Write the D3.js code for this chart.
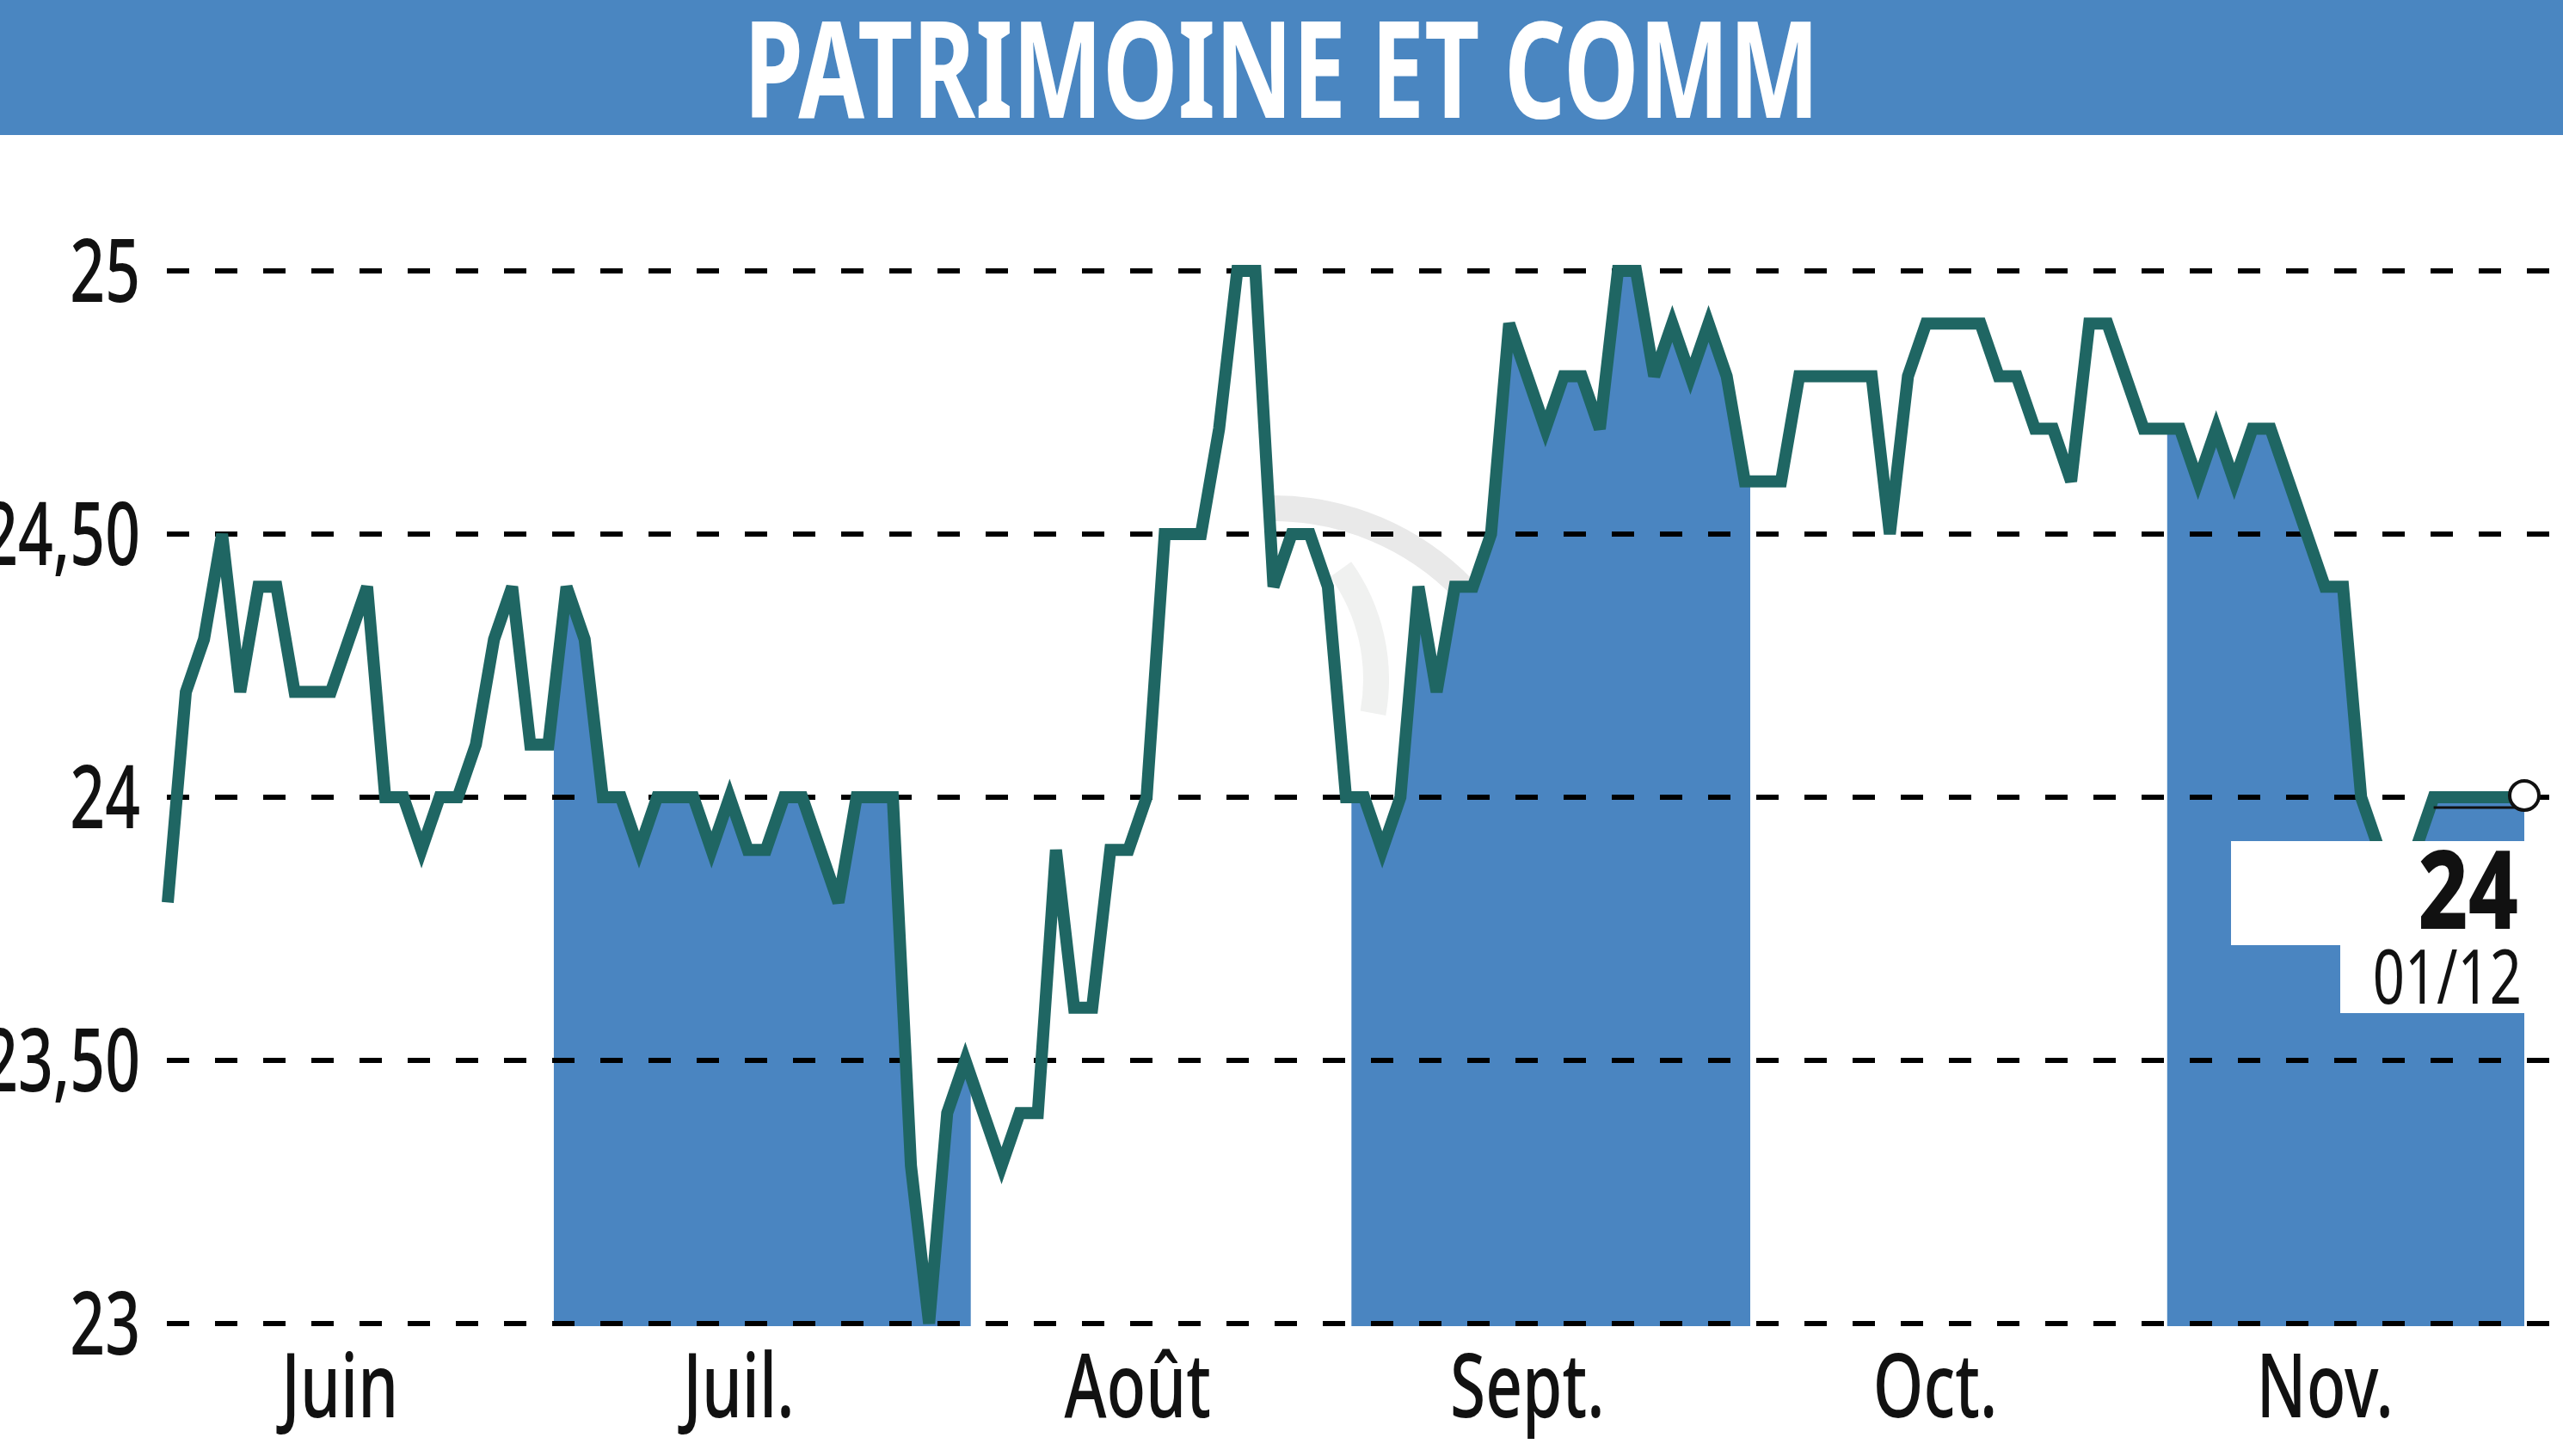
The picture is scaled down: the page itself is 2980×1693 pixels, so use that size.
<!DOCTYPE html>
<html><head><meta charset="utf-8">
<script src="https://cdn.jsdelivr.net/npm/d3@7"></script>
<style>html,body{margin:0;padding:0;background:#fff;overflow:hidden} svg{display:block}</style>
</head><body>
<svg id="chart" width="2980" height="1693"></svg>
<script>
// ---------- data ----------
const title = "PATRIMOINE ET COMM";
const monthLabels = ["Juin", "Juil.", "Août", "Sept.", "Oct.", "Nov.", ""];
const valJuin = [23.8, 24.2, 24.3, 24.5, 24.2, 24.4, 24.4, 24.2, 24.2, 24.2, 24.3, 24.4, 24.0, 24.0, 23.9, 24.0, 24.0, 24.1, 24.3, 24.4, 24.1];
const valJuil = [24.1, 24.4, 24.3, 24.0, 24.0, 23.9, 24.0, 24.0, 24.0, 23.9, 24.0, 23.9, 23.9, 24.0, 24.0, 23.9, 23.8, 24.0, 24.0, 24.0, 23.3, 23.0, 23.4];
const valAout = [23.5, 23.4, 23.3, 23.4, 23.4, 23.9, 23.6, 23.6, 23.9, 23.9, 24.0, 24.5, 24.5, 24.5, 24.7, 25.0, 25.0, 24.4, 24.5, 24.5, 24.4];
const valSept = [24.0, 24.0, 23.9, 24.0, 24.4, 24.2, 24.4, 24.4, 24.5, 24.9, 24.8, 24.7, 24.8, 24.8, 24.7, 25.0, 25.0, 24.8, 24.9, 24.8, 24.9, 24.8];
const valOct  = [24.6, 24.6, 24.6, 24.8, 24.8, 24.8, 24.8, 24.8, 24.5, 24.8, 24.9, 24.9, 24.9, 24.9, 24.8, 24.8, 24.7, 24.7, 24.6, 24.9, 24.9, 24.8, 24.7];
const valNov  = [24.7, 24.7, 24.6, 24.7, 24.6, 24.7, 24.7, 24.6, 24.5, 24.4, 24.4, 24.0, 23.9, 23.9, 23.9, 24.0, 24.0, 24.0, 24.0, 24.0];
const valDec  = [24.0];
const shadedMonths = [1, 3, 5];
const yTicks = [23, 23.5, 24, 24.5, 25];
const yTickLabels = ["23", "23,50", "24", "24,50", "25"];
const lastValueLabel = "24";
const lastDateLabel = "01/12";

// ---------- build ----------
const monthValues = [valJuin, valJuil, valAout, valSept, valOct, valNov, valDec];
const data = [];
const monthStart = [];
monthValues.forEach((arr, m) => {
  monthStart.push(data.length);
  arr.forEach(v => data.push({ i: data.length, v: v, m: m }));
});
const N = data.length;
const last = data[N - 1];

const W = 2980, H = 1693;
const FONT = "'Noto Sans', 'Open Sans', sans-serif";
const svg = d3.select("#chart");

const x = d3.scaleLinear().domain([0, N - 1]).range([195, 2935]);
const y = d3.scaleLinear().domain([23, 25]).range([1539, 315]);

// header
svg.append("rect").attr("x", 0).attr("y", 0).attr("width", W).attr("height", 157).attr("fill", "#4a86c1");
svg.append("text")
  .attr("x", W / 2).attr("y", 137)
  .attr("text-anchor", "middle")
  .attr("font-family", FONT).attr("font-weight", 700).attr("font-size", 157)
  .attr("fill", "#ffffff")
  .attr("textLength", 1250).attr("lengthAdjust", "spacingAndGlyphs")
  .text(title);

// faint watermark swoosh
const wm = svg.append("g");
wm.append("path")
  .attr("transform", "translate(1480,900)")
  .attr("d", d3.arc()({ innerRadius: 294, outerRadius: 324, startAngle: 0.0, endAngle: 0.8 }))
  .attr("fill", "#e9e9e9");
wm.append("path")
  .attr("transform", "translate(1380,790)")
  .attr("d", d3.arc()({ innerRadius: 205, outerRadius: 235, startAngle: 0.95, endAngle: 1.75 }))
  .attr("fill", "#f0f1f0");

// shaded months (area under line)
const defs = svg.append("defs");
const area = d3.area().x(d => x(d.i)).y0(y(23) + 3).y1(d => y(d.v));
shadedMonths.forEach(m => {
  const x0 = x(monthStart[m] + 0.3);
  const nextStart = (m + 1 < monthStart.length) ? monthStart[m + 1] : N - 1;
  const x1 = Math.min(x(nextStart + 0.3), x(N - 1) + 3);
  defs.append("clipPath").attr("id", "clip" + m)
    .append("rect").attr("x", x0).attr("y", 0).attr("width", x1 - x0).attr("height", H);
  svg.append("path").datum(data)
    .attr("d", area)
    .attr("fill", "#4a85c1")
    .attr("clip-path", "url(#clip" + m + ")");
});

// gridlines
svg.append("g").selectAll("line").data(yTicks).join("line")
  .attr("x1", 194).attr("x2", W)
  .attr("y1", d => y(d)).attr("y2", d => y(d))
  .attr("stroke", "#000").attr("stroke-width", 6)
  .attr("stroke-dasharray", "26,30");

// y tick labels
svg.append("g").selectAll("text").data(yTicks).join("text")
  .attr("transform", d => `translate(163,${y(d) + 36}) scale(0.7,1)`)
  .attr("text-anchor", "end")
  .attr("font-family", FONT).attr("font-weight", 500).attr("font-size", 102)
  .attr("fill", "#111")
  .text((d, i) => yTickLabels[i]);

// month labels
svg.append("g").selectAll("text").data(monthLabels.filter(l => l !== "")).join("text")
  .attr("transform", (d, m) => {
    const cx = x(monthStart[m] + (monthValues[m].length - 1) / 2 - 0.5);
    return `translate(${cx},1648) scale(0.72,1)`;
  })
  .attr("text-anchor", "middle")
  .attr("font-family", FONT).attr("font-weight", 500).attr("font-size", 104)
  .attr("fill", "#111")
  .text(d => d);

// line
const line = d3.line().x(d => x(d.i)).y(d => y(d.v));
svg.append("path").datum(data)
  .attr("d", line)
  .attr("fill", "none")
  .attr("stroke", "#1f6663")
  .attr("stroke-width", 14)
  .attr("stroke-linejoin", "miter");

// last value thin line
svg.append("line")
  .attr("x1", x(N - 6)).attr("x2", x(N - 1))
  .attr("y1", y(last.v) + 12).attr("y2", y(last.v) + 12)
  .attr("stroke", "#111").attr("stroke-width", 3);

// last value box
const lx = x(last.i), ly = y(last.v);
svg.append("rect").attr("x", lx - 341).attr("y", ly + 51).attr("width", 344).attr("height", 121).attr("fill", "#fff");
svg.append("rect").attr("x", lx - 214).attr("y", ly + 171).attr("width", 215).attr("height", 80).attr("fill", "#fff");
svg.append("text")
  .attr("transform", `translate(${lx - 7},${ly + 153}) scale(0.8,1)`)
  .attr("text-anchor", "end")
  .attr("font-family", FONT).attr("font-weight", 800).attr("font-size", 126)
  .attr("fill", "#111")
  .text(lastValueLabel);
svg.append("text")
  .attr("transform", `translate(${lx - 3},${ly + 240}) scale(0.74,1)`)
  .attr("text-anchor", "end")
  .attr("font-family", FONT).attr("font-weight", 400).attr("font-size", 88)
  .attr("fill", "#111")
  .text(lastDateLabel);

// end marker
svg.append("circle").attr("cx", lx).attr("cy", ly - 2).attr("r", 17)
  .attr("fill", "#fff").attr("stroke", "#111").attr("stroke-width", 4);
</script>
</body></html>
